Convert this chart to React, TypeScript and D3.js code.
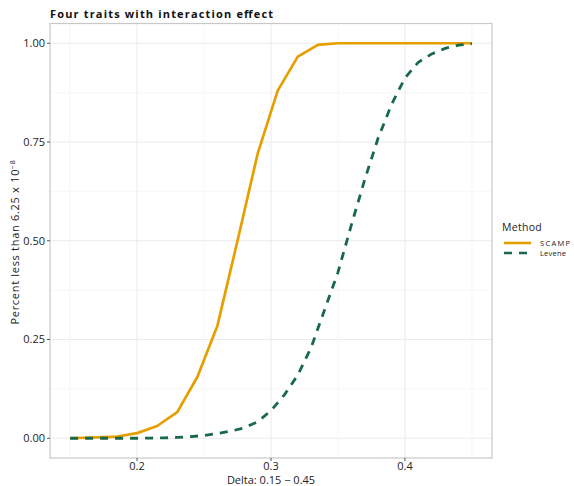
import React from "react";
import * as d3 from "d3";

const scampX = [0.15, 0.17, 0.185, 0.2, 0.215, 0.23, 0.245, 0.26, 0.275, 0.29, 0.305, 0.32, 0.335, 0.35, 0.38, 0.41, 0.45];
const scampY = [0.0, 0.002, 0.004, 0.013, 0.031, 0.066, 0.155, 0.285, 0.5, 0.72, 0.88, 0.966, 0.996, 1.0, 1.0, 1.0, 1.0];

const leveneX = [0.15, 0.16, 0.17, 0.18, 0.19, 0.2, 0.21, 0.22, 0.23, 0.24, 0.25, 0.26, 0.27, 0.28, 0.29, 0.3, 0.31, 0.32, 0.33, 0.34, 0.35, 0.36, 0.37, 0.38, 0.39, 0.4, 0.41, 0.42, 0.43, 0.44, 0.45];
const leveneY = [0, 0, 0, 0, 0, 0, 0.0005, 0.001, 0.002, 0.004, 0.007, 0.012, 0.018, 0.026, 0.042, 0.07, 0.11, 0.16, 0.23, 0.325, 0.42, 0.54, 0.655, 0.76, 0.845, 0.912, 0.952, 0.973, 0.987, 0.995, 0.999];

const xMajor = [0.2, 0.3, 0.4];
const xMajorLabels = ["0.2", "0.3", "0.4"];
const xMinor = [0.15, 0.25, 0.35, 0.45];
const yMajor = [0, 0.25, 0.5, 0.75, 1];
const yMajorLabels = ["0.00", "0.25", "0.50", "0.75", "1.00"];
const yMinor = [0.125, 0.375, 0.625, 0.875];

const seriesNames = ["SCAMP", "Levene"];
const seriesColors = ["#E69F00", "#17694A"];

const W = 574;
const H = 486;
const left = 50;
const right = 492;
const top = 23.5;
const bottom = 458;

export default function App() {
  const x = d3.scaleLinear().domain([0.135, 0.465]).range([left, right]);
  const y = d3.scaleLinear().domain([-0.05, 1.05]).range([bottom, top]);
  const line = d3
    .line<[number, number]>()
    .x((d) => x(d[0]))
    .y((d) => y(d[1]));
  const scampPts: [number, number][] = scampX.map((v, i) => [v, scampY[i]]);
  const levenePts: [number, number][] = leveneX.map((v, i) => [v, leveneY[i]]);
  const font = "'Open Sans', 'Noto Sans', sans-serif";

  return (
    <svg
      width={W}
      height={H}
      style={{ position: "absolute", left: 0, top: 0, background: "#fff" }}
      fontFamily={font}
    >
      <rect x={0} y={0} width={W} height={H} fill="#fff" />
      {xMinor.map((v) => (
        <line key={"xm" + v} x1={x(v)} x2={x(v)} y1={top} y2={bottom} stroke="#F4F4F4" strokeWidth={0.7} />
      ))}
      {yMinor.map((v) => (
        <line key={"ym" + v} x1={left} x2={right} y1={y(v)} y2={y(v)} stroke="#F4F4F4" strokeWidth={0.7} />
      ))}
      {xMajor.map((v) => (
        <line key={"xM" + v} x1={x(v)} x2={x(v)} y1={top} y2={bottom} stroke="#EBEBEB" strokeWidth={1} />
      ))}
      {yMajor.map((v) => (
        <line key={"yM" + v} x1={left} x2={right} y1={y(v)} y2={y(v)} stroke="#EBEBEB" strokeWidth={1} />
      ))}
      <rect x={left} y={top} width={right - left} height={bottom - top} fill="none" stroke="#C8C8C8" strokeWidth={1.2} />

      <path d={line(scampPts) || ""} fill="none" stroke={seriesColors[0]} strokeWidth={2.7} strokeLinejoin="round" />
      <path
        d={line(levenePts) || ""}
        fill="none"
        stroke={seriesColors[1]}
        strokeWidth={2.8}
        strokeDasharray="8,7"
      />

      {yMajor.map((v, i) => (
        <g key={"yt" + v}>
          <line x1={left - 3} x2={left} y1={y(v)} y2={y(v)} stroke="#555" strokeWidth={1} />
          <text x={left - 5} y={y(v)} dy="0.35em" textAnchor="end" fontSize={11} fontWeight={500} fill="#222">
            {yMajorLabels[i]}
          </text>
        </g>
      ))}
      {xMajor.map((v, i) => (
        <g key={"xt" + v}>
          <line x1={x(v)} x2={x(v)} y1={bottom} y2={bottom + 3} stroke="#555" strokeWidth={1} />
          <text x={x(v)} y={bottom + 11.5} textAnchor="middle" fontSize={11} fontWeight={500} fill="#222">
            {xMajorLabels[i]}
          </text>
        </g>
      ))}

      <text x={271} y={484} textAnchor="middle" fontSize={11} fontWeight={500} fill="#222">
        Delta: 0.15 − 0.45
      </text>
      <text
        transform={`translate(19, ${242}) rotate(-90)`}
        textAnchor="middle"
        fontSize={11}
        fontWeight={500}
        fill="#222"
        letterSpacing={0.7}
      >
        Percent less than 6.25 x 10<tspan dy={-4} fontSize={7}>−8</tspan>
      </text>

      <text x={50} y={18} fontSize={11} fontWeight="bold" fill="#111" textLength={223} lengthAdjust="spacing">
        Four traits with interaction effect
      </text>

      <text x={502} y={231} fontSize={10.5} fontWeight={500} fill="#222" letterSpacing={0.3}>
        Method
      </text>
      {seriesNames.map((name, i) => (
        <g key={name}>
          <line
            x1={504}
            x2={531}
            y1={243 + i * 10}
            y2={243 + i * 10}
            stroke={seriesColors[i]}
            strokeWidth={2.6}
            strokeDasharray={i === 1 ? "8,7" : undefined}
          />
          <text x={540} y={243 + i * 10} dy="0.35em" fontSize={7.5} fill="#222" letterSpacing={i === 0 ? 1.3 : 0.2}>
            {name}
          </text>
        </g>
      ))}
    </svg>
  );
}
